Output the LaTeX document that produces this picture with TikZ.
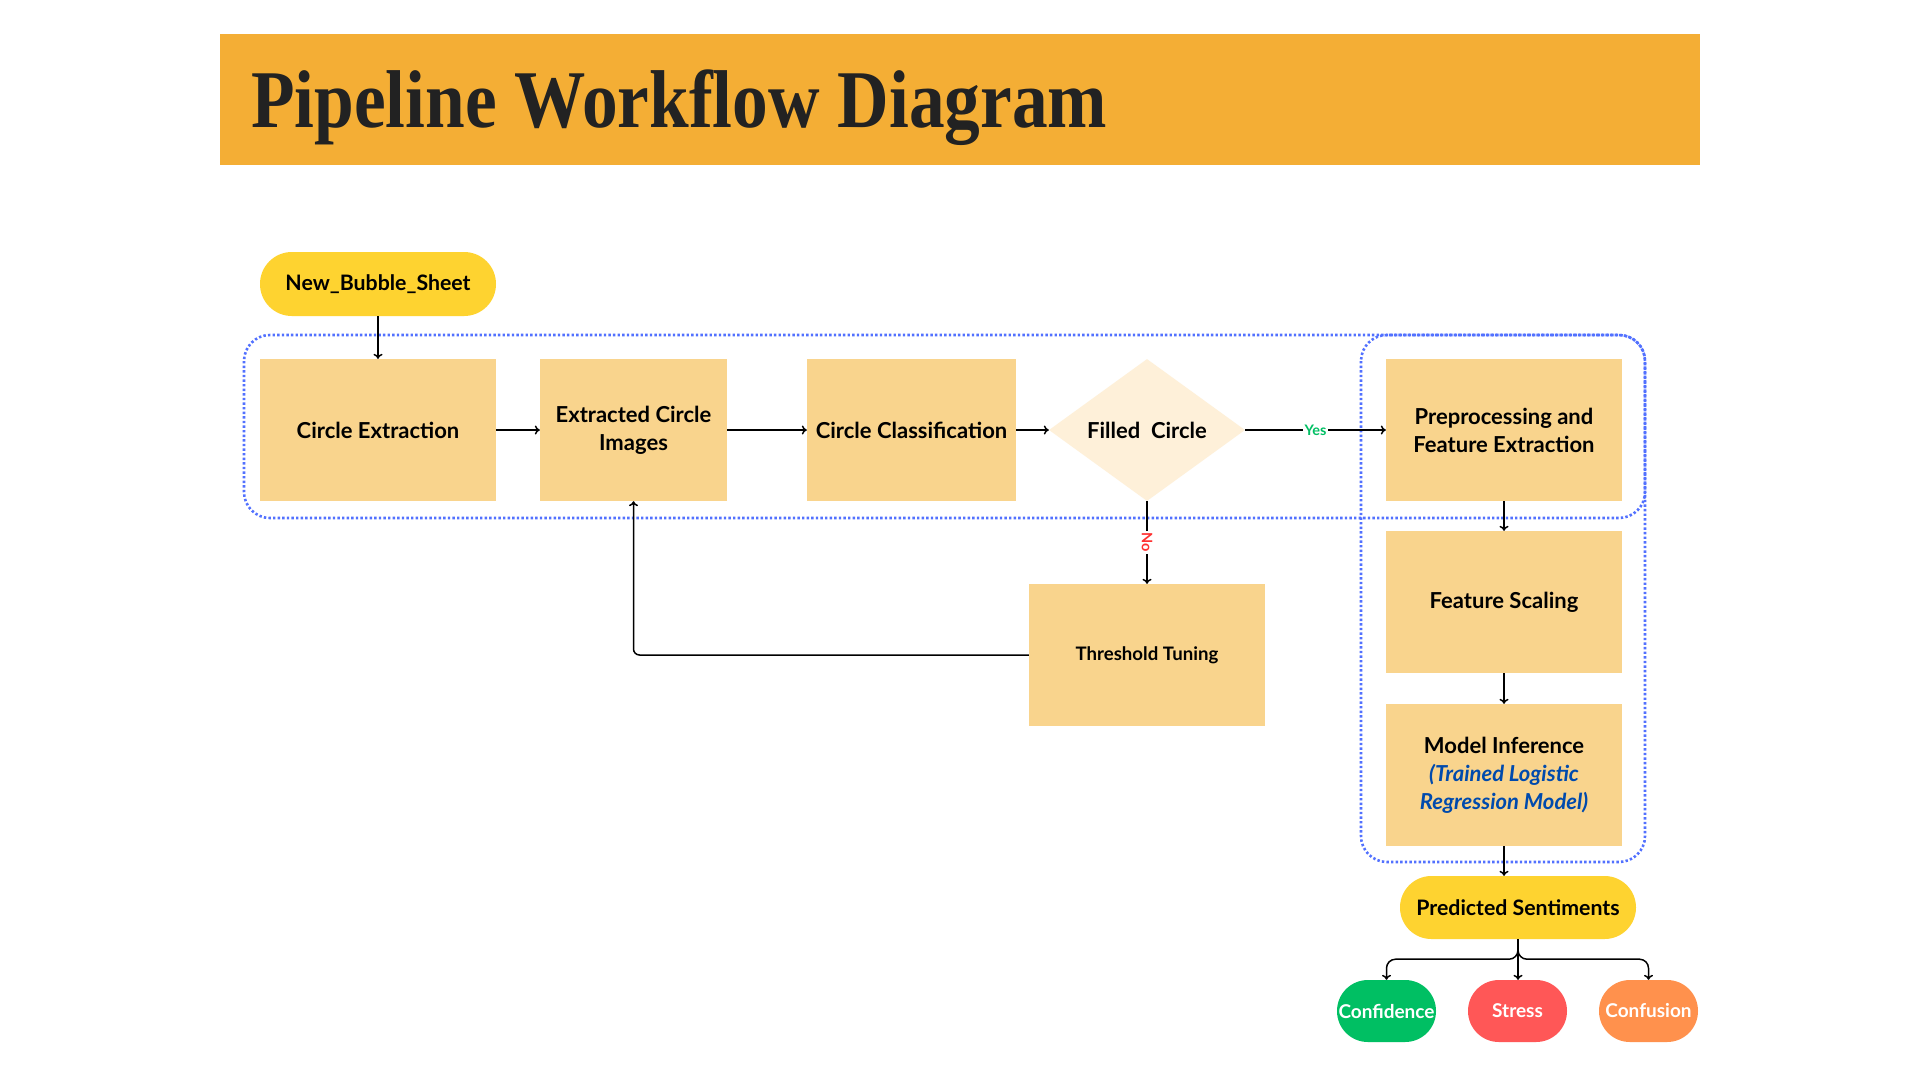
\documentclass[tikz,border=0pt]{standalone}
\usepackage{fontspec}
\setmainfont{Lato}
\newfontfamily\titlefont{Liberation Serif}
\usetikzlibrary{shapes.geometric,arrows.meta}
\definecolor{titlebg}{HTML}{F4AE35}
\definecolor{titletext}{HTML}{222222}
\definecolor{boxfill}{HTML}{F9D48D}
\definecolor{diafill}{HTML}{FEF0D9}
\definecolor{pillyellow}{HTML}{FED330}
\definecolor{grpblue}{HTML}{5271FF}
\definecolor{yesgreen}{HTML}{00BF63}
\definecolor{nored}{HTML}{FF3131}
\definecolor{stressred}{HTML}{FF5757}
\definecolor{confusionorange}{HTML}{FF914D}
\definecolor{modelblue}{HTML}{004AAD}
\tikzset{
  procbox/.style={fill=boxfill, minimum height=142pt, align=center, inner sep=0pt,
    font=\bfseries\fontsize{22}{28}\selectfont},
  decision/.style={shape=diamond, fill=diafill, minimum width=196pt, minimum height=142pt,
    aspect=1.38, inner sep=0pt, font=\bfseries\fontsize{22}{28}\selectfont},
  pill/.style={fill=pillyellow, rounded corners=31.9pt, minimum width=236pt, minimum height=64pt,
    inner sep=0pt, font=\bfseries\fontsize{21.3}{24}\selectfont},
  sentiment/.style={fill=#1, rounded corners=30.9pt, minimum width=99pt, minimum height=62pt,
    inner sep=0pt, text=white, font=\bfseries\fontsize{19}{20}\selectfont},
  arr/.style={draw=black, line width=1.5pt, -{To[length=5pt,width=9pt]}},
  grp/.style={draw=grpblue, line width=2.6pt, dash pattern=on 2.4pt off 2.2pt, rounded corners=26pt},
  edgelabel/.style={fill=white, inner sep=1.5pt, font=\bfseries\fontsize{14.5}{14}\selectfont}
}
\begin{document}
\begin{tikzpicture}[x=1pt,y=-1pt]
\fill[white] (0,0) rectangle (1920,1080);
\useasboundingbox (0,0) rectangle (1920,1080);
% title
\fill[titlebg] (220,34) rectangle (1700,165);
\node[anchor=base west, inner sep=0pt, text=titletext] (title) at (251,127)
  {\scalebox{0.87}[1]{\titlefont\bfseries\fontsize{82}{90}\selectfont Pipeline Workflow Diagram}};
% groups
\draw[grp] (244,335) rectangle (1645,518);
\draw[grp] (1361,335) rectangle (1645,862);
% nodes
\node[pill] (bubble) at (378,284) {New\_Bubble\_Sheet};
\node[procbox, minimum width=236pt] (ce) at (378,430) {Circle Extraction};
\node[procbox, minimum width=187pt] (eci) at (633.5,430) {Extracted Circle\\Images};
\node[procbox, minimum width=209pt] (cc) at (911.5,430) {Circle Classification};
\node[decision] (fc) at (1147,430) {Filled\ \ Circle};
\node[procbox, minimum width=236pt] (pfe) at (1504,430) {Preprocessing and\\Feature Extraction};
\node[procbox, minimum width=236pt] (fs) at (1504,602) {Feature Scaling};
\node[procbox, minimum width=236pt] (mi) at (1504,775)
  {Model Inference\\{\color{modelblue}\itshape (Trained Logistic}\\{\color{modelblue}\itshape Regression Model)}};
\node[procbox, minimum width=236pt, font=\bfseries\fontsize{18.6}{22}\selectfont] (tt) at (1147,655) {Threshold Tuning};
\node[pill, minimum width=236pt, minimum height=63pt, rounded corners=31.4pt] (ps) at (1518,907.5) {Predicted Sentiments};
\node[sentiment=yesgreen] (conf) at (1386.5,1011) {Confidence};
\node[sentiment=stressred] (stress) at (1517.5,1011) {Stress};
\node[sentiment=confusionorange] (confu) at (1648.5,1011) {Confusion};
% connectors
\draw[arr] (bubble.south) -- (ce.north);
\draw[arr] (ce.east) -- (eci.west);
\draw[arr] (eci.east) -- (cc.west);
\draw[arr] (cc.east) -- (fc.west);
\draw[arr] (fc.east) -- node[edgelabel, text=yesgreen] {Yes} (pfe.west);
\draw[arr] (fc.south) -- node[edgelabel, text=nored, rotate=-90] {No} (tt.north);
\draw[arr, rounded corners=6pt] (tt.west) -| (eci.south);
\draw[arr] (pfe.south) -- (fs.north);
\draw[arr] (fs.south) -- (mi.north);
\draw[arr] (mi.south) -- (mi.south |- ps.north);
\coordinate (split) at ([yshift=-20pt]ps.south);
\draw[arr, rounded corners=9pt] (ps.south) -- (split) -| (conf.north);
\draw[arr, rounded corners=9pt] (ps.south) -- (split) -| (confu.north);
\draw[arr] (ps.south) -- (ps.south |- stress.north);
\end{tikzpicture}
\end{document}
